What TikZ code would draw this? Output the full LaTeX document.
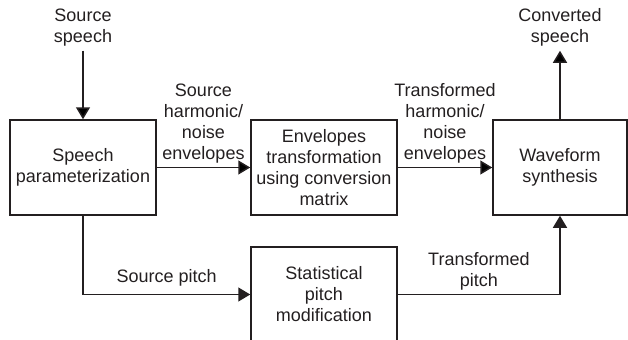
\documentclass[tikz,border=0pt]{standalone}
\usepackage{fontspec}
\setmainfont{Liberation Sans}
\usepackage{tikz}
\usetikzlibrary{arrows.meta,positioning}
\definecolor{ink}{HTML}{231F20}
\tikzset{%
boxnode/.style={rectangle, draw=ink, line width=0.75pt, minimum width=73pt, minimum height=47.5pt, inner sep=2pt, align=center, text=ink},
lblnode/.style={align=center, text=ink, inner sep=2pt},
pt/.style={draw=ink, line width=0.75pt, -{Triangle[length=6pt,width=7pt]}}
}

\begin{document}
\begin{tikzpicture}[x=1pt, y=1pt, node distance=120.5pt, font=\fontsize{9}{10.5}\selectfont]
		\useasboundingbox (0,0) rectangle (314,169.5);
		\node[boxnode] (param) at (41.5,85.75) {Speech\\parameterization};
		\node[boxnode] (env) [right of=param] {Envelopes\\transformation\\using conversion\\matrix};
		\node[boxnode, minimum width=67pt] (wave) [right of=env, xshift=-2.5pt] {Waveform\\synthesis};
		\node[boxnode] (stat) [below of=env, node distance=63.5pt] {Statistical\\pitch\\modification};
		\node[lblnode] (src) [above of=param, node distance=70pt] {Source\\speech};
		\node[lblnode] (conv) [above of=wave, node distance=70pt] {Converted\\speech};
	
		\path[pt] (src) edge [] (param);
		\path[pt] (wave) edge [] (conv);
		
		\path[pt] (param) edge [] node [lblnode, above] {Source\\harmonic/\\noise\\envelopes} (env);
		\path[pt] (env) edge [] node [lblnode, above] {Transformed\\harmonic/\\noise\\envelopes} (wave);
		
		\draw[pt] (param.south) |- node [lblnode, pos=0.75, above, yshift=2pt] {Source pitch} (stat.west);
		\draw[pt] (stat.east) -| node [lblnode, pos=0.25, above] {Transformed\\pitch} (wave.south);
	\end{tikzpicture}
\end{document}
